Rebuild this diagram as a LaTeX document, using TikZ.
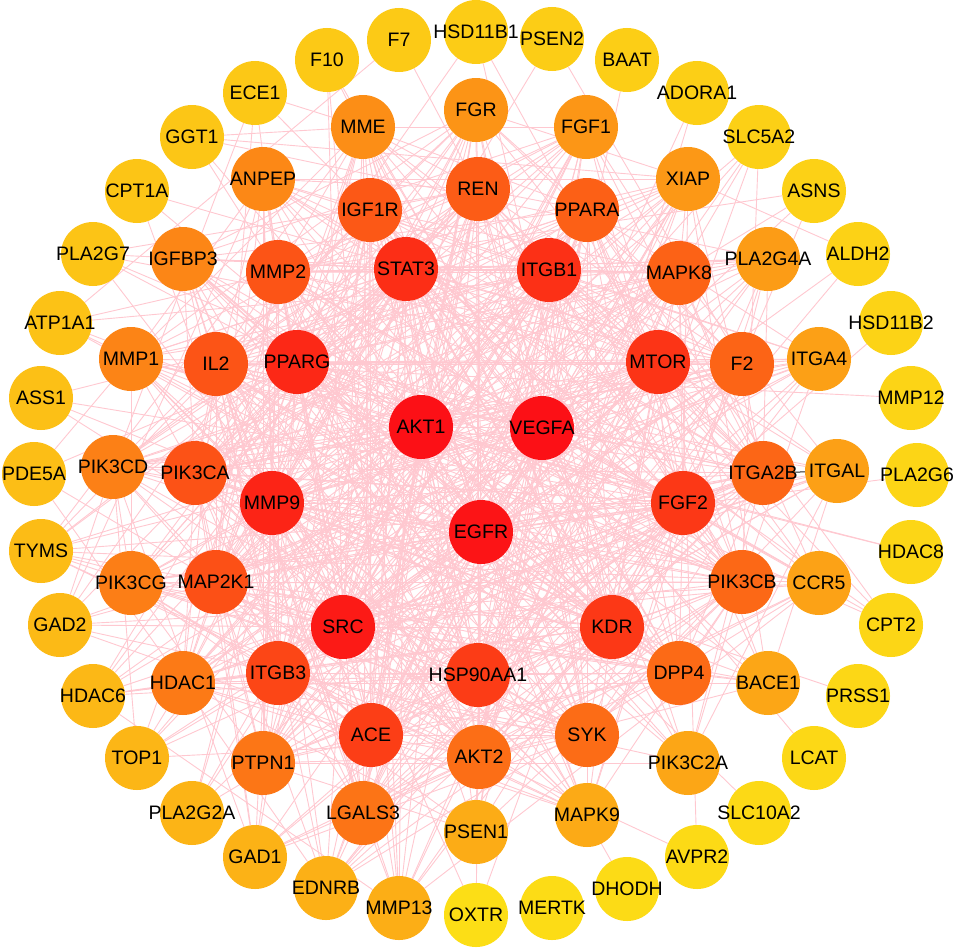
\documentclass[tikz,border=0pt]{standalone}
\usepackage{fontspec}
\setmainfont{Liberation Sans}
\pgfdeclarelayer{bg}
\pgfdeclarelayer{paper}
\pgfsetlayers{paper,bg,main}
\definecolor{edgepink}{RGB}{255,200,208}
\definecolor{edgedark}{RGB}{40,40,40}
\tikzset{
  gene/.style={circle, draw=none, minimum size=64pt, inner sep=0pt,
    font=\fontsize{19.5}{20}\selectfont, text=black},
  edgeline/.style={draw=edgepink, line width=0.9pt},
  darkedge/.style={draw=edgedark, line width=1pt},
}
\begin{document}
\begin{tikzpicture}[x=1pt,y=-1pt]
\begin{pgfonlayer}{paper}
\fill[white] (0,0) rectangle (955,950);
\end{pgfonlayer}
\useasboundingbox (0,0) rectangle (955,950);
% nodes in order of decreasing degree (name/x/y/green)
\foreach \nm/\x/\y/\g [count=\i] in {
 AKT1/421/427/16, VEGFA/542/428/16, EGFR/481/532/20,
 SRC/343/627/26, MMP9/272/503/36, PPARG/297/362/40, STAT3/406/269/46,
 ITGB1/549/270/48, MTOR/658/362/52, FGF2/683/503/56, KDR/612/627/56,
 HSP90AA1/478/675/60,
 ACE/371/735/62, ITGB3/278/673/70, MAP2K1/216/582/80, PIK3CA/195/473/82,
 IL2/216/364/84, MMP2/278/272/84, IGF1R/370/210/88, REN/478/189/92,
 PPARA/587/210/96, MAPK8/679/273/98, F2/742/364/100, ITGA2B/763/473/102,
 PIK3CB/742/582/104, DPP4/679/673/106, SYK/587/735/108, AKT2/479/757/110,
 LGALS3/363/813/116, PTPN1/263/763/118, HDAC1/183/683/122, PIK3CG/131/583/126,
 PIK3CD/113/467/128, MMP1/131/359/132, IGFBP3/183/259/134, ANPEP/263/179/136,
 MME/363/127/142, FGR/476/110/148, FGF1/586/127/150, XIAP/688/179/152,
 PLA2G4A/768/259/156, ITGA4/819/359/160, ITGAL/837/471/160, CCR5/819/583/162,
 BACE1/768/683/166, PIK3C2A/688/763/166, MAPK9/587/815/170, PSEN1/476/832/172,
 MMP13/399/908/174, EDNRB/326/888/176, GAD1/255/857/178, PLA2G2A/192/813/180,
 TOP1/137/758/182, HDAC6/93/696/184, GAD2/60/625/186, TYMS/41/551/188,
 PDE5A/34/474/190, ASS1/41/398/192, ATP1A1/60/323/194, PLA2G7/93/254/196,
 CPT1A/137/191/197, GGT1/192/137/198, ECE1/255/93/200, F10/327/60/201,
 F7/399/40/202, HSD11B1/476/32/204, PSEN2/552/39/205, BAAT/627/60/206,
 ADORA1/697/93/207, SLC5A2/759/137/208, ASNS/814/191/209, ALDH2/858/254/210,
 HSD11B2/891/323/211, MMP12/911/398/212, PLA2G6/917/475/213, HDAC8/911/552/214,
 CPT2/891/625/214, PRSS1/858/696/215, LCAT/814/758/216, SLC10A2/759/813/217,
 AVPR2/697/857/218, DHODH/627/889/219, MERTK/552/908/220, OXTR/476/915/222}
{
  \definecolor{nodec}{RGB}{252,\g,22}
  \node[gene, fill=nodec, alias=v\i] (\nm) at (\x,\y) {\makebox[0pt]{\nm}};
}
% expected degrees by rank
\foreach \i in {1,...,84}{
  \pgfmathsetmacro\dd{2+63*((85-\i)/84)^2.2}
  \expandafter\xdef\csname dg\i\endcsname{\dd}
}
\pgfmathsetseed{2024}
\begin{pgfonlayer}{bg}
\foreach \i in {1,...,83}{
  \pgfmathtruncatemacro\js{\i+1}
  \foreach \j in {\js,...,84}{
    \pgfmathsetmacro\pp{\csname dg\i\endcsname*\csname dg\j\endcsname/1800}
    \pgfmathparse{rnd}
    \ifdim\pgfmathresult pt<\pp pt
      \draw[edgeline] (v\i) -- (v\j);
    \fi
  }
}
\draw[darkedge] (ITGA2B) -- (ITGAL);
\end{pgfonlayer}
\end{tikzpicture}
\end{document}
